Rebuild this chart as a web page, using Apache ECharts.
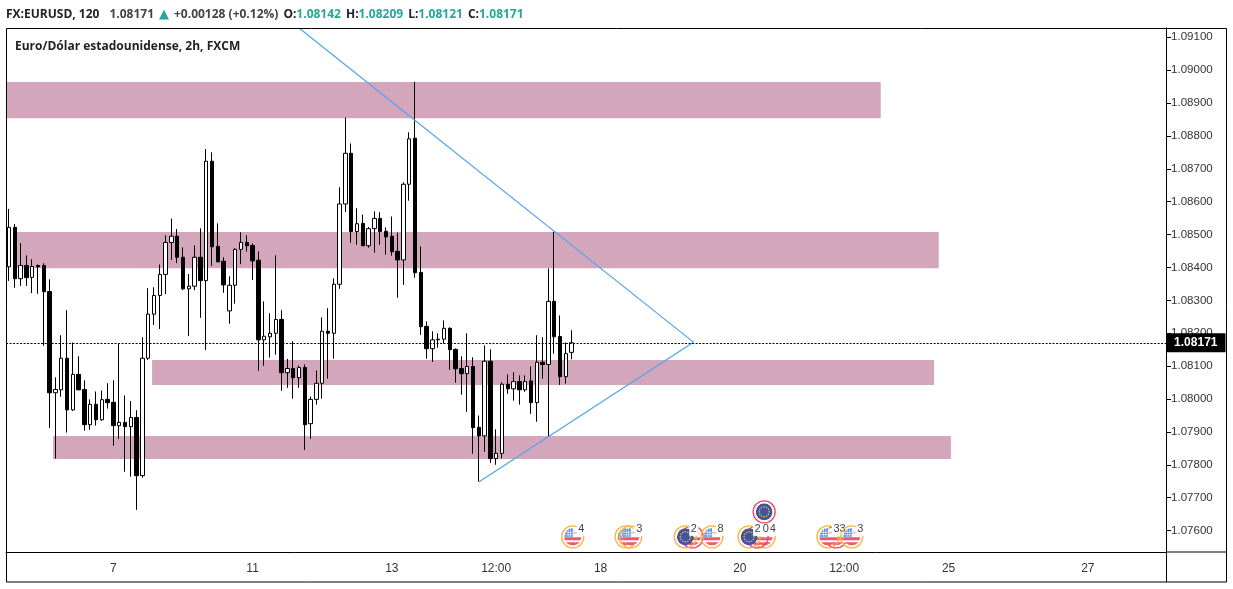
<!DOCTYPE html>
<html>
<head>
<meta charset="utf-8">
<title>EURUSD</title>
<script src="https://cdn.jsdelivr.net/npm/echarts@6/dist/echarts.min.js"></script>
<style>
html, body { margin: 0; padding: 0; background: #fff; }
#chart { width: 1233px; height: 589px; }
</style>
</head>
<body>
<div id="chart"></div>
<script>
const opens = [1.08402,1.08522,1.08366,1.08406,1.08370,1.08406,1.08406,1.08327,1.08019,1.08028,
  1.08124,1.07967,1.08075,1.08029,1.07922,1.07984,1.07937,1.07999,1.07990,1.07919,
  1.07929,1.07916,1.07944,1.07767,1.08124,1.08258,1.08315,1.08379,1.08476,1.08495,
  1.08431,1.08335,1.08343,1.08431,1.08360,1.08723,1.08464,1.08419,1.08268,1.08346,
  1.08455,1.08476,1.08467,1.08422,1.08180,1.08189,1.08200,1.08242,1.08080,1.08093,
  1.08065,1.08096,1.07925,1.07999,1.08048,1.08206,1.08200,1.08349,1.08593,1.08747,
  1.08509,1.08534,1.08466,1.08518,1.08549,1.08510,1.08495,1.08449,1.08423,1.08653,
  1.08793,1.08385,1.08221,1.08153,1.08180,1.08182,1.08215,1.08151,1.08093,1.08077,
  1.08099,1.07914,1.07888,1.08115,1.07819,1.07835,1.08045,1.08031,1.08053,1.08028,
  1.08055,1.07989,1.08112,1.08105,1.08297,1.08190,1.08068,1.08142];
const closes = [1.08522,1.08366,1.08406,1.08369,1.08403,1.08402,1.08326,1.08019,1.08029,1.08124,
  1.07967,1.08075,1.08028,1.07922,1.07984,1.07937,1.07998,1.07989,1.07919,1.07929,
  1.07916,1.07944,1.07767,1.08124,1.08258,1.08315,1.08379,1.08476,1.08495,1.08431,
  1.08335,1.08343,1.08431,1.08360,1.08723,1.08463,1.08417,1.08347,1.08346,1.08455,
  1.08476,1.08466,1.08420,1.08180,1.08191,1.08200,1.08242,1.08080,1.08093,1.08065,
  1.08096,1.07922,1.07999,1.08048,1.08206,1.08200,1.08349,1.08593,1.08747,1.08509,
  1.08533,1.08466,1.08518,1.08549,1.08509,1.08493,1.08448,1.08423,1.08653,1.08791,
  1.08384,1.08220,1.08153,1.08180,1.08182,1.08215,1.08150,1.08092,1.08077,1.08099,
  1.07913,1.07888,1.08115,1.07819,1.07835,1.08045,1.08031,1.08053,1.08028,1.08053,
  1.07989,1.08112,1.08105,1.08297,1.08189,1.08068,1.08138,1.08171];
const lows = [1.08359,1.08338,1.08344,1.08344,1.08322,1.08320,1.08162,1.07912,1.07819,1.08007,
  1.07898,1.07964,1.08027,1.07904,1.07907,1.07919,1.07934,1.07971,1.07858,1.07879,
  1.07779,1.07764,1.07663,1.07761,1.08119,1.08225,1.08213,1.08319,1.08423,1.08413,
  1.08331,1.08192,1.08331,1.08247,1.08149,1.08405,1.08417,1.08323,1.08229,1.08290,
  1.08410,1.08448,1.08362,1.08086,1.08101,1.08126,1.08135,1.08025,1.08034,1.08001,
  1.08034,1.07845,1.07879,1.07983,1.08001,1.08062,1.08123,1.08335,1.08569,1.08475,
  1.08469,1.08466,1.08460,1.08445,1.08469,1.08439,1.08436,1.08308,1.08347,1.08603,
  1.08369,1.08195,1.08123,1.08113,1.08156,1.08168,1.08089,1.08050,1.08013,1.07961,
  1.07834,1.07749,1.07840,1.07806,1.07800,1.07819,1.08016,1.07995,1.07983,1.08022,
  1.07955,1.07931,1.08062,1.07885,1.08138,1.08043,1.08047,1.08121];
const highs = [1.08578,1.08532,1.08474,1.08437,1.08425,1.08409,1.08413,1.08364,1.08066,1.08194,
  1.08270,1.08172,1.08130,1.08057,1.07999,1.08023,1.08026,1.08048,1.08057,1.08167,
  1.08011,1.07994,1.07966,1.08188,1.08337,1.08340,1.08409,1.08498,1.08549,1.08517,
  1.08461,1.08380,1.08467,1.08519,1.08760,1.08750,1.08534,1.08431,1.08373,1.08458,
  1.08507,1.08498,1.08473,1.08449,1.08297,1.08261,1.08437,1.08270,1.08122,1.08176,
  1.08102,1.08105,1.08008,1.08087,1.08248,1.08276,1.08367,1.08644,1.08856,1.08777,
  1.08580,1.08561,1.08523,1.08571,1.08568,1.08522,1.08555,1.08506,1.08659,1.08811,
  1.08964,1.08464,1.08236,1.08206,1.08200,1.08239,1.08218,1.08154,1.08130,1.08200,
  1.08127,1.07950,1.08163,1.08151,1.07908,1.08051,1.08075,1.08081,1.08072,1.08072,
  1.08099,1.08194,1.08188,1.08397,1.08508,1.08254,1.08172,1.08209];

const barCount = 200;
const tickIndex = [18, 42, 66, 84, 102, 126, 144, 162, 186];
const tickLabels = ["7", "11", "13", "12:00", "18", "20", "12:00", "25", "27"];
const priceTicks = [1.076, 1.077, 1.078, 1.079, 1.08, 1.081, 1.082, 1.083, 1.084, 1.085, 1.086, 1.087, 1.088, 1.089, 1.09, 1.091];
const lastPrice = 1.08171;

// zones drawn on the chart: start bar, end bar, top price, bottom price
const zoneStart = [-0.34, 1, 24.66, 7.6];
const zoneEnd = [150.3, 160.3, 159.5, 162.4];
const zoneTop = [1.08964, 1.08508, 1.08119, 1.07888];
const zoneBottom = [1.08854, 1.08398, 1.08043, 1.07818];

// triangle drawing
const trendBars = [50, 118, 81];
const trendPrices = [1.09128, 1.08173, 1.07748];

// economic calendar markers
const eventBars = [97.2, 106.4, 107.2, 117.8, 116.6, 121.2, 130.2, 129, 127.6, 142.6, 141.2, 145.3, 130.2];
const eventPrices = [1.07581, 1.07581, 1.07581, 1.07581, 1.07581, 1.07581, 1.07581, 1.07581, 1.07581, 1.07581, 1.07581, 1.07581, 1.07657];
const eventFlags = ["us", "us", "us", "us", "eu", "us", "us", "us", "eu", "us", "us", "us", "eu"];
const eventRings = ["low", "low", "low", "high", "low", "low", "low", "high", "low", "high", "low", "low", "high"];
const eventCounts = ["4", "", "3", "", "2", "8", "4", "0", "2", "3", "33", "3", ""];

const categories = [];
for (let i = 0; i < barCount; i++) {
    const t = tickIndex.indexOf(i);
    categories.push(t >= 0 ? tickLabels[t] : "b" + i);
}

const candles = opens.map((o, i) => [o, closes[i], lows[i], highs[i]]);

const ringColors = { low: "#f9b748", high: "#f04c64" };

// category axes round to whole bars, so add the part of a bar by hand
function barPoint(api, bar, price) {
    const whole = Math.round(bar);
    const p = api.coord([whole, price]);
    return [p[0] + (bar - whole) * api.size([1, 0])[0], p[1]];
}

function usFlag(x, y) {
    return [
        { type: "rect", shape: { x: x - 9, y: y - 9, width: 18, height: 18 }, style: { fill: "#fff" } },
        { type: "rect", shape: { x: x, y: y - 5, width: 9, height: 2 }, style: { fill: "#f8c0c8" } },
        { type: "rect", shape: { x: x - 9, y: y + 0.5, width: 18, height: 3 }, style: { fill: "#f0566c" } },
        { type: "rect", shape: { x: x - 9, y: y + 5.5, width: 18, height: 4 }, style: { fill: "#f0566c" } },
        { type: "rect", shape: { x: x - 9, y: y - 9, width: 9, height: 9 }, style: { fill: "#4f86de" } },
        { type: "rect", shape: { x: x - 8, y: y - 5, width: 8, height: 0.8 }, style: { fill: "#dbe7f8" } },
        { type: "rect", shape: { x: x - 8, y: y - 2.5, width: 8, height: 0.8 }, style: { fill: "#dbe7f8" } },
        { type: "rect", shape: { x: x - 5, y: y - 9, width: 0.8, height: 9 }, style: { fill: "#dbe7f8" } },
        { type: "rect", shape: { x: x - 2.5, y: y - 9, width: 0.8, height: 9 }, style: { fill: "#dbe7f8" } }
    ];
}

function euFlag(x, y) {
    const parts = [{ type: "circle", shape: { cx: x, cy: y, r: 8.5 }, style: { fill: "#43549f" } }];
    for (let a = 0; a < 12; a++) {
        const rad = a * Math.PI / 6;
        parts.push({
            type: "circle",
            shape: { cx: x + Math.cos(rad) * 5, cy: y + Math.sin(rad) * 5, r: 0.8 },
            style: { fill: "#f2c230" }
        });
    }
    return parts;
}

function renderZone(params, api) {
    const i = params.dataIndex;
    const a = barPoint(api, zoneStart[i], zoneTop[i]);
    const b = barPoint(api, zoneEnd[i], zoneBottom[i]);
    return {
        type: "rect",
        shape: { x: a[0], y: a[1], width: b[0] - a[0], height: b[1] - a[1] },
        style: { fill: "#d4a6bc" }
    };
}

function renderEvent(params, api) {
    const i = params.dataIndex;
    const p = barPoint(api, eventBars[i], eventPrices[i]);
    const children = [
        { type: "circle", shape: { cx: p[0], cy: p[1], r: 11 }, style: { fill: "none", stroke: ringColors[eventRings[i]], lineWidth: 1.4 } },
        {
            type: "group",
            children: eventFlags[i] === "us" ? usFlag(p[0], p[1]) : euFlag(p[0], p[1]),
            clipPath: { type: "circle", shape: { cx: p[0], cy: p[1], r: 8.5 } }
        }
    ];
    if (eventCounts[i]) {
        const w = eventCounts[i].length * 6 + 3;
        children.push({ type: "rect", shape: { x: p[0] + 4, y: p[1] - 13, width: w, height: 12 }, style: { fill: "#fff" } });
        children.push({
            type: "text",
            style: { x: p[0] + 5.5, y: p[1] - 13, text: eventCounts[i], fill: "#444", font: "11px 'Liberation Sans'" }
        });
    }
    return { type: "group", children: children };
}

const chart = echarts.init(document.getElementById("chart"));

const option = {
    animation: false,
    backgroundColor: "#fff",
    title: [
        {
            left: 6,
            top: 6,
            padding: 0,
            text: "{b|FX:EURUSD, 120}  {n|1.08171} {t|▲} {n|+0.00128 (+0.12%)} {b|O:}{g|1.08142} {b|H:}{g|1.08209} {b|L:}{g|1.08121} {b|C:}{g|1.08171}",
            textStyle: {
                rich: {
                    b: { fontFamily: "Open Sans", fontSize: 12, fontWeight: "bold", color: "#222" },
                    n: { fontFamily: "Open Sans", fontSize: 12, color: "#444" },
                    g: { fontFamily: "Open Sans", fontSize: 12, color: "#26a69a" },
                    t: { fontFamily: "DejaVu Sans", fontSize: 13, color: "#26a69a" }
                }
            }
        },
        {
            left: 15,
            top: 41,
            padding: 0,
            text: "Euro/Dólar estadounidense, 2h, FXCM",
            textStyle: { fontFamily: "Open Sans", fontSize: 12, fontWeight: "bold", color: "#222" }
        }
    ],
    grid: { left: 6.1, top: 28, width: 1160, height: 524 },
    xAxis: {
        type: "category",
        data: categories,
        boundaryGap: true,
        axisLine: { lineStyle: { color: "#000", width: 1 } },
        axisTick: {
            length: 4,
            alignWithLabel: true,
            interval: (i) => tickIndex.includes(i),
            lineStyle: { color: "#000" }
        },
        axisLabel: {
            interval: (i) => tickIndex.includes(i),
            fontFamily: "Liberation Sans",
            fontSize: 12,
            color: "#333",
            margin: 11
        },
        splitLine: { show: false }
    },
    yAxis: {
        type: "value",
        position: "right",
        min: 1.07535,
        max: 1.09128,
        scale: true,
        axisLine: { show: true, lineStyle: { color: "#000", width: 1 } },
        axisTick: { show: true, length: 5, customValues: priceTicks, lineStyle: { color: "#000" } },
        axisLabel: {
            customValues: priceTicks,
            formatter: (v) => v.toFixed(5),
            fontFamily: "Liberation Sans",
            fontSize: 11.5,
            color: "#333",
            margin: 5,
            padding: [3, 0, 0, 0]
        },
        splitLine: { show: false }
    },
    series: [
        {
            name: "Zones",
            type: "custom",
            data: zoneStart.map((s, i) => [s, zoneTop[i]]),
            encode: { x: 0, y: 1 },
            renderItem: renderZone,
            z: 1,
            silent: true
        },
        {
            name: "EURUSD",
            type: "candlestick",
            data: candles,
            barWidth: 4,
            z: 3,
            itemStyle: {
                color: "#fff",
                color0: "#000",
                borderColor: "#000",
                borderColor0: "#000",
                borderWidth: 1
            },
            markLine: {
                silent: true,
                symbol: "none",
                precision: 5,
                z: 6,
                lineStyle: { color: "#000", type: [2, 1.5], width: 1 },
                label: {
                    position: "end",
                    distance: 0,
                    formatter: lastPrice.toFixed(5),
                    backgroundColor: "#000",
                    color: "#fff",
                    fontFamily: "Liberation Sans",
                    fontWeight: "bold",
                    fontSize: 12,
                    padding: [4, 8, 3, 8]
                },
                data: [{ yAxis: lastPrice }]
            }
        },
        {
            name: "Triangle",
            type: "line",
            data: trendBars.map((b, i) => [b, trendPrices[i]]),
            symbol: "none",
            z: 4,
            lineStyle: { color: "#4ea4ef", width: 1.2 }
        },
        {
            name: "Events",
            type: "custom",
            data: eventBars.map((b, i) => [b, eventPrices[i]]),
            encode: { x: 0, y: 1 },
            renderItem: renderEvent,
            clip: false,
            z: 5
        }
    ],
    graphic: [
        { type: "rect", z: 10, shape: { x: 6.5, y: 28.5, width: 1220, height: 553.5 }, style: { fill: "none", stroke: "#000", lineWidth: 1 } },
        { type: "line", z: 10, shape: { x1: 1166.5, y1: 552, x2: 1226, y2: 552 }, style: { stroke: "#000", lineWidth: 1 } },
        { type: "line", z: 10, shape: { x1: 1166.5, y1: 552, x2: 1166.5, y2: 582 }, style: { stroke: "#000", lineWidth: 1 } }
    ]
};

chart.setOption(option);
window.addEventListener("resize", () => chart.resize());
</script>
</body>
</html>
